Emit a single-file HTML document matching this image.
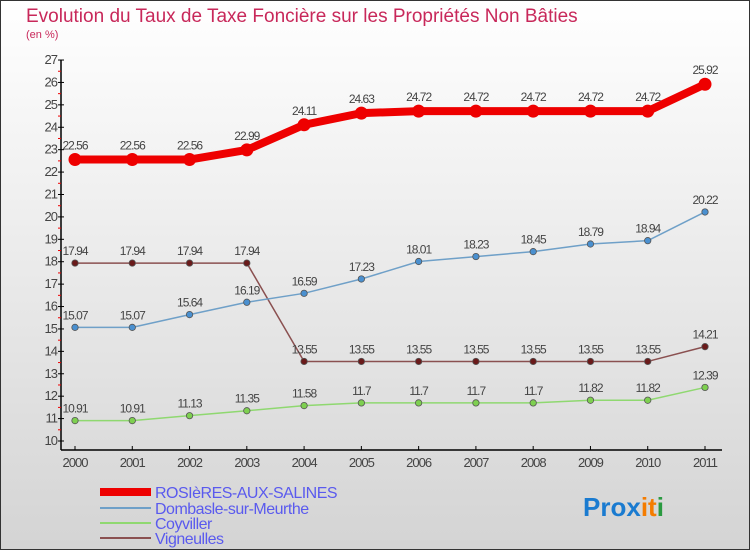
<!DOCTYPE html>
<html><head><meta charset="utf-8"><style>
body{margin:0}
#c{width:750px;height:550px;position:relative;box-sizing:border-box;border:1px solid #333;background:linear-gradient(#fff,#d4d4d4);font-family:"Liberation Sans",sans-serif;overflow:hidden}
</style></head><body>
<div id="c">
<svg id="s" width="750" height="550" style="position:absolute;left:-1px;top:-1px">
<text x="26" y="22" font-size="19" fill="#c8285a">Evolution du Taux de Taxe Foncière sur les Propriétés Non Bâties</text>
<text x="26" y="38" font-size="11" fill="#c8285a">(en %)</text>
<g id="ax"></g><g id="ser"></g>
<g>
<rect x="100" y="488" width="51" height="8" fill="#e00"/>
<text x="155" y="498" font-size="16" fill="#5a5aee" letter-spacing="-0.5">ROSIèRES-AUX-SALINES</text>
<rect x="100" y="507" width="51" height="2" fill="#6fa0c8"/>
<text x="155" y="514" font-size="16" fill="#5a5aee" letter-spacing="-0.5">Dombasle-sur-Meurthe</text>
<rect x="100" y="522" width="51" height="2" fill="#8fd870"/>
<text x="155" y="529" font-size="16" fill="#5a5aee" letter-spacing="-0.5">Coyviller</text>
<rect x="100" y="537" width="51" height="2" fill="#8a5050"/>
<text x="155" y="544" font-size="16" fill="#5a5aee" letter-spacing="-0.5">Vigneulles</text>
</g>
<text x="583" y="516" font-size="26" font-weight="bold"><tspan fill="#1a7bd0">Pro</tspan><tspan fill="#1a7bd0">x</tspan><tspan fill="#f47c00">i</tspan><tspan fill="#f47c00">t</tspan><tspan fill="#2a9a40">i</tspan></text>
</svg>
</div>
<script>
const years=["2000","2001","2002","2003","2004","2005","2006","2007","2008","2009","2010","2011"];
const rosieres=[22.56,22.56,22.56,22.99,24.11,24.63,24.72,24.72,24.72,24.72,24.72,25.92];
const dombasle=[15.07,15.07,15.64,16.19,16.59,17.23,18.01,18.23,18.45,18.79,18.94,20.22];
const coyviller=[10.91,10.91,11.13,11.35,11.58,11.7,11.7,11.7,11.7,11.82,11.82,12.39];
const vigneulles=[17.94,17.94,17.94,17.94,13.55,13.55,13.55,13.55,13.55,13.55,13.55,14.21];
const yTicks=[10,11,12,13,14,15,16,17,18,19,20,21,22,23,24,25,26,27];
const NS="http://www.w3.org/2000/svg";
const X=i=>75+i*(630/(years.length-1));
const Y=v=>441-(v-10)*22.41;
function mk(t,a,p){const e=document.createElementNS(NS,t);for(const k in a)e.setAttribute(k,a[k]);p.appendChild(e);return e;}
const ax=document.getElementById('ax'),ser=document.getElementById('ser');
let l=mk('line',{x1:61,y1:Y(27),x2:61,y2:450,stroke:'#000','stroke-width':1.5},ax);


l=mk('line',{x1:61,y1:450,x2:722,y2:450,stroke:'#000','stroke-width':1.5},ax);


yTicks.forEach(v=>{
 const y=Y(v);
 mk('line',{x1:58,y1:y,x2:64,y2:y,stroke:'#000'},ax);
 if(v<27) mk('line',{x1:58,y1:y-11.2,x2:61,y2:y-11.2,stroke:'#e00'},ax);
 const t=mk('text',{x:57,y:y+4,'font-size':13,fill:'#444','text-anchor':'end','letter-spacing':'-1'},ax);
 t.textContent=v;
 
 
});
years.forEach((yr,i)=>{
 mk('line',{x1:X(i),y1:446,x2:X(i),y2:450,stroke:'#000'},ax);
 const t=mk('text',{x:X(i),y:467,'font-size':13,fill:'#444','text-anchor':'middle','letter-spacing':'-1'},ax);
 t.textContent=yr;
 
 
});
function series(vals,col,w,r,name,dot){
 const p=mk('polyline',{points:vals.map((v,i)=>X(i)+','+Y(v)).join(' '),fill:'none',stroke:col,'stroke-width':w,'stroke-linejoin':'round'},ser);
 
 
 vals.forEach((v,i)=>{
  const c=mk('circle',{cx:X(i),cy:Y(v),r:r,fill:dot,stroke:'#555','stroke-width':r>4?0:0.8},ser);
  
  
  const t=mk('text',{x:X(i),y:Y(v)-(r>4?10:8),'font-size':12,fill:'#444','text-anchor':'middle','letter-spacing':'-1'},ser);
  t.textContent=v;
  
  
 });
}
series(vigneulles,'#8a5050',1.5,3.2,'vigneulles','#6a1a1a');
series(coyviller,'#8fd870',1.5,3.2,'coyviller','#7ed050');
series(dombasle,'#6fa0c8',1.5,3.2,'dombasle','#4a90d0');
series(rosieres,'#e00',8,6.5,'rosieres','#e00');
</script>
</body></html>
